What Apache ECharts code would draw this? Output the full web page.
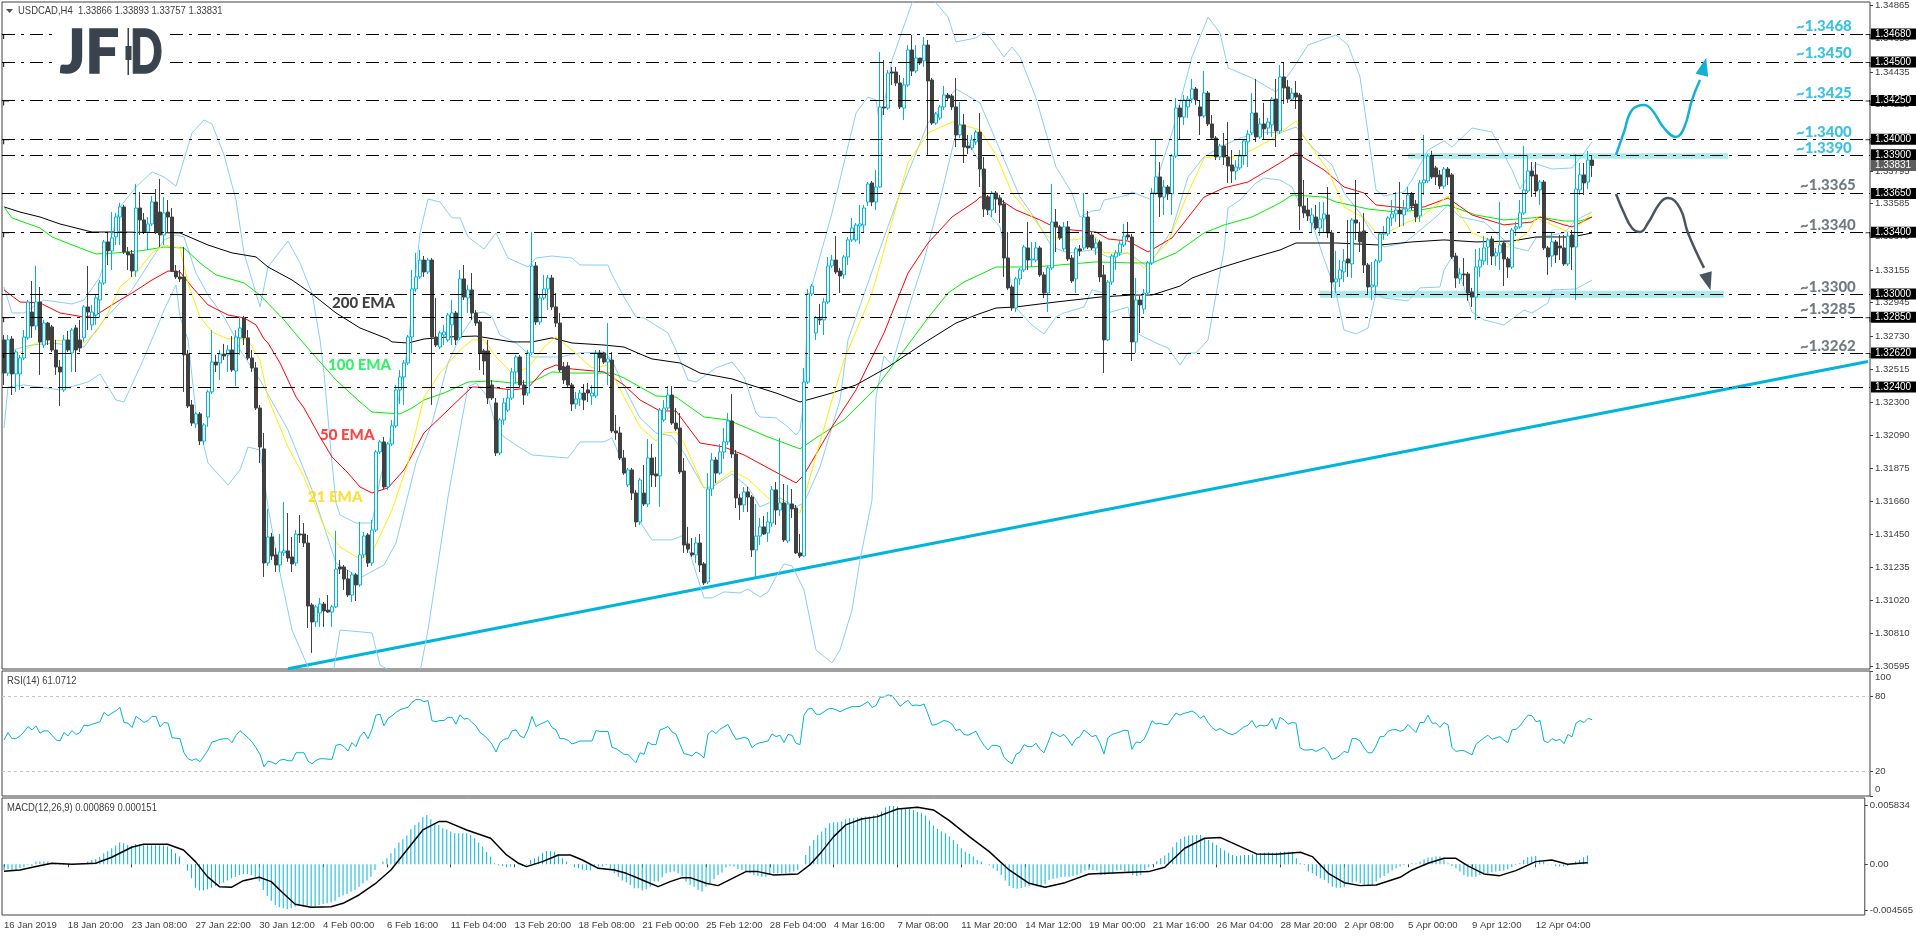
<!DOCTYPE html>
<html><head><meta charset="utf-8"><title>USDCAD,H4</title>
<style>html,body{margin:0;padding:0;background:#fff;overflow:hidden}#c{width:1916px;height:936px}</style>
<script src="https://cdn.jsdelivr.net/npm/echarts@6/dist/echarts.min.js"></script></head>
<body><div id="c"></div><script>
// prices are in units of 0.00001; rows are [open, high, low, close]
const candlesJan=[[132704,132736,132413,132490],[132490,132736,132471,132704],[132710,132729,132348,132484],[132484,132639,132368,132626],[132484,132607,132381,132587],[132587,132768,132574,132723],[132717,132962,132704,132949],[132884,133085,132717,132794],[132794,133182,132768,132949],[132949,133046,132478,132691],[132671,132833,132652,132813],[132813,132820,132671,132704],[132788,132801,132626,132639],[132639,132704,132478,132529],[132529,132574,132277,132497],[132381,132736,132368,132704],[132704,132762,132626,132639],[132620,132781,132497,132768],[132781,132801,132497,132639],[132704,132833,132626,132652],[132717,132930,132691,132917],[132917,133182,132768,132884],[132801,132930,132768,132884],[132865,132994,132801,132975],[132962,133091,132846,133072],[133072,133350,133059,133337],[133337,133401,133188,133279],[133279,133530,133156,133363],[133369,133524,133317,133498],[133498,133589,133317,133563],[133563,133576,133259,133272],[133272,133304,133156,133253],[133259,133285,133111,133149],[133149,133711,133111,133556],[133556,133660,133382,133479],[133479,133524,133388,133401],[133401,133498,133285,133453],[133453,133634,133440,133595],[133595,133679,133388,133401],[133530,133744,133304,133382],[133382,133627,133317,133524],[133530,133608,133395,133498],[133498,133556,133143,133149],[133149,133188,133098,133111],[133111,133156,133078,133098],[133111,133304,132368,132607],[132613,132639,132264,132277],[132284,132316,132148,132167],[132161,132238,132135,132226],[132226,132238,132025,132051],[132051,132167,132025,132155],[132206,132381,132142,132368],[132368,132768,132355,132561],[132561,132607,132497,132542],[132555,132639,132445,132613],[132613,132678,132574,132600],[132607,132671,132497,132639],[132639,132729,132497,132510],[132503,132768,132406,132723],[132717,132846,132607,132781],[132846,132859,132671,132717],[132717,132768,132574,132587],[132587,132639,132497,132523],[132523,132561,132251,132264],[132264,132284,131909,132012],[132000,132103,131173,131263],[131263,131612,131244,131431],[131431,131457,131282,131308],[131315,131360,131205,131250],[131250,131450,131205,131334],[131328,131657,131308,131341],[131341,131586,131270,131295],[131302,131431,131205,131257],[131263,131476,131244,131450],[131450,131573,131392,131444],[131450,131521,131366,131392],[131392,131444,130843,130985],[130992,131005,130682,130882],[130882,130992,130850,130979],[130940,131037,130850,130998],[130998,131011,130850,130953],[130959,131056,130940,130946],[130946,130992,130850,130979],[130979,131470,130972,131224],[131237,131282,131192,131224],[131237,131250,131089,131160],[131160,131218,131043,131056],[131056,131205,131011,131186],[131186,131198,131017,131121],[131121,131528,131108,131315],[131315,131463,131295,131437],[131444,131457,131237,131263],[131263,131541,131244,131476],[131476,131993,131463,131980],[131980,132058,131967,132045],[132045,132077,131741,131754],[131754,132045,131735,132032],[132032,132187,132019,132148],[132148,132413,132135,132381],[132381,132510,132290,132465]];
const candlesFeb=[[132465,132574,132284,132555],[132555,132736,132542,132723],[132723,133156,132620,133033],[133033,133266,133014,133111],[133111,133285,133098,133220],[133220,133246,133111,133143],[133143,133233,133130,133220],[133220,133233,132284,132723],[132723,132975,132658,132671],[132658,132762,132645,132749],[132736,132801,132671,132755],[132704,132878,132691,132865],[132801,132962,132671,132878],[132878,132891,132671,132704],[132717,133156,132704,133098],[133098,133188,132962,132981],[132975,133059,132878,133027],[133027,133136,132833,132878],[132878,132897,132794,132813],[132820,132833,132510,132620],[132633,132645,132478,132568],[132633,132704,132290,132329],[132413,132445,132316,132329],[132297,132329,131954,131974],[131974,132200,131961,132187],[132187,132329,132155,132297],[132251,132381,132238,132329],[132329,132523,132316,132497],[132497,132607,132419,132594],[132594,132607,132394,132413],[132413,132445,132284,132348],[132361,132639,132342,132620],[132620,133401,132607,133182],[133182,133207,132801,132820],[132820,132994,132801,132975],[132975,133124,132962,133033],[133033,133124,132897,133104],[133104,133124,132897,132917],[132917,133007,132788,132813],[132813,132878,132497,132510],[132529,132561,132419,132445],[132536,132561,132394,132413],[132413,132426,132245,132290],[132290,132368,132258,132322],[132322,132381,132277,132361],[132361,132419,132251,132316],[132381,132426,132303,132361],[132342,132413,132284,132361],[132342,132639,132329,132620],[132620,132639,132497,132587],[132620,132626,132549,132561],[132561,132813,132413,132581],[132574,132626,132103,132116],[132116,132219,132058,132103],[132103,132142,131928,131941],[131941,131993,131832,131844],[131767,131877,131754,131864],[131864,131877,131670,131715],[131715,131735,131496,131528],[131528,131812,131508,131799],[131715,131896,131631,131644],[131644,132064,131625,131941],[131941,132032,131754,131832],[131838,131948,131754,131825],[131825,132264,131625,132251],[132187,132316,132174,132264],[132264,132406,132251,132348],[132348,132406,132155,132167],[132167,132264,132116,132129],[132135,132232,131838,131851],[131857,131941,131328,131379],[131386,131496,131328,131353],[131328,131424,131302,131315],[131315,131431,131263,131392],[131392,131450,131205,131250],[131257,131269,131121,131134],[131140,131844,131127,131741],[131741,131974,131696,131928],[131928,131948,131780,131844],[131844,132032,131832,131980],[131980,132135,131935,132045],[132045,132232,132025,132180],[132180,132355,131941,131967],[131967,131993,131618,131683],[131683,131709,131541,131638],[131638,131754,131592,131722],[131722,131754,131592,131689],[131689,131702,131302,131347],[131347,131644,131173,131437],[131437,131554,131379,131496],[131496,131567,131444,131450],[131457,131592,131399,131528],[131521,131760,131496,131735],[131735,131786,131509,131605],[131605,132071,131567,131651],[131651,131773,131399,131412],[131405,131767,131392,131644],[131644,131741,131554,131612],[131618,131638,131321,131328],[131328,131450,131295,131308]];
const candlesMar=[[131308,132523,131302,132432],[132432,133033,132419,133001],[133001,133065,132988,133052],[132749,132859,132704,132846],[132839,132936,132801,132833],[132833,132975,132736,132949],[132949,133240,132936,133182],[133182,133253,133169,133220],[133220,133375,133130,133143],[133149,133169,133007,133117],[133124,133253,133098,133240],[133240,133369,133188,133350],[133350,133492,133337,133427],[133350,133459,133337,133446],[133440,133576,133324,133453],[133446,133576,133401,133556],[133595,133724,133569,133711],[133718,133731,133569,133595],[133595,133802,133543,133692],[133692,134564,133686,134209],[134209,134512,134157,134202],[134202,134448,134189,134428],[134435,134467,134351,134428],[134435,134467,134344,134364],[134364,134415,134196,134209],[134202,134396,134125,134351],[134351,134609,134338,134577],[134577,134674,134409,134441],[134441,134609,134428,134525],[134525,134525,134480,134493],[134506,134661,134467,134609],[134609,134642,133899,134377],[134383,134396,134093,134105],[134105,134176,134093,134164],[134138,134222,134125,134209],[134209,134344,134189,134286],[134286,134299,134254,134267],[134280,134293,134189,134209],[134209,134396,133950,134028],[134028,134241,134008,134093],[134093,134164,133847,133950],[133957,134028,133905,133944],[133944,134028,133931,133996],[133983,134060,133963,134047],[134047,134170,133692,133808],[133808,133886,133498,133550],[133627,133640,133511,133543],[133543,133666,133498,133653],[133653,133666,133524,133614],[133621,133640,133459,133576],[133582,133608,133111,133233],[133233,133401,133027,133040],[133046,133059,132891,132910],[132910,133111,132884,133098],[133098,133169,133059,133156],[133156,133317,133143,133304],[133298,133466,133156,133220],[133220,133337,133175,133227],[133220,133337,133207,133298],[133298,133311,133111,133124],[133124,133143,132975,133007],[133007,133182,132884,133169],[133169,133711,133156,133466],[133466,133550,133272,133434],[133434,133446,133350,133363],[133292,133466,133279,133434],[133434,133472,133214,133227],[133233,133253,133072,133085],[133098,133304,133007,133292],[133292,133317,133246,133279],[133298,133653,133285,133498],[133498,133537,133291,133304],[133382,133401,133285,133298],[133298,133363,133253,133330],[133337,133350,133078,133111],[133124,133188,132490,132704],[132704,133091,132697,133078],[133078,133259,133059,133246],[133240,133285,133156,133266],[133266,133343,133246,133324],[133317,133453,133304,133375],[133382,133466,133350,133369],[133369,133388,132568,132691],[132691,133104,132620,132962],[132962,132988,132749,132930],[132904,133033,132872,133007],[133007,133214,132994,133201],[133201,133686,133188,133653],[133653,133996,133640,133757],[133757,133853,133498,133627],[133627,133737,133511,133692],[133692,133705,133608,133647],[133647,133905,133511,133892],[133892,134267,133879,134202],[134202,134222,134002,134144],[134144,134286,134093,134254],[134209,134280,134138,134260],[134260,134390,134235,134325],[134325,134338,134222,134254],[134209,134254,134028,134151]];
const candlesApr=[[134151,134441,134138,134299],[134299,134312,134086,134099],[134099,134157,133996,134008],[134008,134021,133866,133886],[133886,133970,133866,133957],[133957,134041,133834,133886],[133886,134112,133718,133828],[133834,133931,133718,133795],[133795,133866,133737,133821],[133815,133931,133802,133892],[133892,134002,133834,133989],[133983,134060,133821,134034],[134041,134299,134028,134170],[134170,134390,133983,134015],[134015,134138,134002,134099],[134099,134235,133996,134067],[134073,134138,134028,134112],[134093,134273,134015,134260],[134260,134390,133950,134054],[134054,134480,134034,134403],[134403,134499,134228,134332],[134338,134383,134235,134260],[134260,134332,134254,134299],[134299,134377,134196,134273],[134286,134299,133414,133569],[133569,133737,133492,133524],[133543,133621,133472,133505],[133459,133556,133401,133511],[133498,133576,133414,133427],[133427,133595,133375,133485],[133485,133595,133401,133518],[133511,133692,133363,133395],[133395,133414,132975,133078],[133078,133279,133007,133098],[133098,133220,133046,133156],[133143,133291,133078,133214],[133227,133479,133111,133201],[133195,133492,133104,133479],[133479,133737,133350,133459],[133401,133466,133272,133337],[133408,133524,133136,133188],[133188,133201,133001,133046],[133046,133207,132962,133059],[133052,133227,132994,133214],[133214,133401,133201,133388],[133388,133440,133350,133395],[133388,133505,133375,133492],[133492,133608,133440,133518],[133518,133660,133466,133543],[133543,133724,133434,133518],[133511,133608,133440,133550],[133550,133692,133537,133640],[133647,133660,133543,133569],[133582,133608,133466,133498],[133505,133737,133466,133718],[133718,134028,133640,133737],[133731,133905,133718,133892],[133892,133925,133744,133757],[133815,133828,133705,133757],[133770,133802,133679,133698],[133698,133821,133679,133808],[133808,133821,133705,133757],[133770,133782,133227,133240],[133246,133266,133040,133104],[133098,133169,133065,133130],[133130,133233,133052,133124],[133130,133143,132956,133007],[133014,133040,132917,132981],[132981,133291,132833,133175],[133175,133298,133111,133220],[133214,133375,133188,133298],[133304,133363,133188,133350],[133356,133375,133188,133246],[133246,133298,133182,133266],[133266,133595,133156,133317],[133330,133343,133052,133227],[133227,133240,133104,133175],[133175,133427,133162,133414],[133421,133466,133375,133434],[133434,133608,133421,133524],[133524,133957,133511,133673],[133666,133899,133653,133795],[133795,133853,133628,133763],[133770,133853,133628,133666],[133673,133737,133576,133724],[133724,133737,133285,133298],[133298,133311,133124,133240],[133246,133401,133175,133337],[133337,133350,133201,133253],[133311,133382,133220,133298],[133298,133382,133182,133195],[133195,133401,133182,133375],[133382,133414,133156,133304],[133304,133905,132962,133679],[133673,133847,133640,133770],[133770,133847,133640,133718],[133724,133925,133679,133866],[133866,133893,133757,133831]];
// line vertices: [bar index, price in 0.00001]
const ema200=[[0,133563],[4,133530],[9,133498],[14,133453],[22,133401],[29,133401],[44,133395],[51,133317],[57,133266],[63,133240],[66,133175],[72,133091],[77,133001],[83,132878],[89,132781],[96,132710],[97,132691],[101,132684],[105,132710],[111,132723],[118,132729],[127,132691],[132,132691],[137,132717],[142,132684],[150,132671],[155,132658],[159,132613],[162,132581],[169,132555],[174,132490],[182,132452],[185,132426],[193,132361],[199,132303],[207,132361],[213,132413],[221,132529],[230,132684],[238,132813],[243,132865],[248,132910],[253,132917],[263,132949],[274,132981],[282,132994],[287,132994],[294,133052],[297,133104],[304,133169],[312,133233],[319,133285],[323,133330],[333,133330],[344,133317],[352,133337],[360,133350],[368,133337],[377,133343],[383,133369],[392,133369],[397,133395]];
const ema100=[[0,133563],[2,133492],[9,133427],[12,133369],[19,133298],[23,133259],[28,133266],[34,133279],[40,133304],[45,133298],[49,133201],[53,133124],[60,133072],[64,132994],[70,132833],[74,132710],[77,132620],[83,132445],[89,132303],[92,132238],[99,132226],[102,132264],[105,132316],[110,132361],[116,132432],[122,132439],[127,132426],[132,132432],[137,132497],[142,132490],[152,132490],[155,132458],[159,132400],[163,132342],[168,132335],[175,132206],[181,132187],[191,132077],[199,132000],[203,132071],[210,132187],[218,132394],[231,132846],[236,133007],[240,133078],[248,133175],[256,133175],[261,133182],[273,133208],[282,133201],[287,133201],[293,133266],[300,133395],[305,133446],[312,133498],[319,133589],[322,133640],[330,133627],[333,133595],[341,133550],[348,133530],[354,133543],[361,133576],[363,133556],[368,133511],[375,133479],[382,133492],[384,133498],[390,133472],[394,133472],[397,133498]];
const ema50=[[0,133027],[4,132949],[9,132943],[14,132878],[20,132852],[23,132865],[29,132962],[32,133007],[37,133091],[41,133149],[44,133143],[47,133046],[51,132930],[56,132865],[60,132846],[63,132801],[65,132710],[66,132684],[69,132555],[73,132335],[75,132264],[79,132077],[82,131948],[86,131844],[89,131754],[92,131715],[96,131748],[100,131864],[105,132103],[111,132251],[117,132400],[123,132394],[127,132381],[131,132394],[135,132510],[138,132542],[142,132516],[150,132497],[155,132413],[159,132316],[164,132245],[168,132245],[174,132038],[180,132012],[185,131961],[191,131877],[198,131780],[200,131832],[207,132142],[213,132381],[220,132749],[226,133136],[231,133330],[237,133498],[243,133602],[244,133627],[248,133627],[253,133543],[259,133479],[262,133440],[267,133414],[273,133401],[276,133356],[281,133343],[286,133272],[292,133363],[300,133627],[305,133686],[311,133724],[319,133847],[323,133912],[330,133802],[335,133692],[340,133653],[343,133576],[350,133556],[355,133563],[361,133621],[367,133511],[375,133447],[382,133466],[384,133498],[390,133447],[392,133434],[397,133498]];
const ema21=[[0,132620],[3,132607],[8,132684],[12,132704],[20,132684],[23,132755],[26,132878],[29,133046],[33,133136],[37,133266],[40,133317],[44,133298],[46,133072],[49,132852],[52,132755],[56,132710],[58,132717],[61,132704],[64,132574],[66,132329],[71,132012],[75,131819],[80,131496],[84,131366],[89,131289],[92,131328],[97,131605],[101,131909],[105,132335],[109,132490],[114,132639],[117,132704],[120,132704],[123,132594],[127,132490],[131,132523],[135,132658],[138,132723],[142,132639],[147,132523],[151,132542],[155,132335],[159,132142],[163,132051],[165,132103],[168,132109],[170,132038],[175,131748],[177,131760],[182,131857],[186,131806],[191,131683],[195,131657],[199,131586],[202,131864],[207,132316],[210,132574],[217,133007],[223,133563],[226,133847],[231,134041],[237,134112],[244,134060],[248,133899],[252,133653],[257,133498],[261,133369],[267,133350],[273,133369],[275,133266],[281,133266],[285,133169],[291,133337],[296,133653],[300,133879],[303,133892],[307,133879],[312,133931],[317,134002],[319,134041],[323,134118],[325,134015],[331,133802],[335,133563],[340,133492],[343,133395],[345,133388],[351,133466],[354,133492],[361,133634],[367,133395],[373,133330],[376,133304],[381,133401],[383,133492],[390,133414],[392,133395],[397,133530]];
const bollUpper=[[0,133046],[2,132878],[5,132878],[10,132962],[17,132936],[20,132962],[24,133111],[29,133563],[33,133692],[37,133789],[40,133757],[43,133698],[47,134041],[50,134125],[52,134099],[55,133899],[58,133608],[60,133266],[64,132917],[66,133175],[71,133343],[74,133201],[77,133007],[79,132704],[80,132490],[82,131909],[83,131651],[84,131573],[88,131521],[92,131521],[94,131799],[98,132232],[101,132658],[104,133395],[106,133614],[109,133595],[112,133492],[114,133492],[116,133369],[120,133291],[123,133395],[126,133233],[131,133175],[133,133233],[137,133246],[142,133233],[144,133188],[151,133188],[152,133124],[155,132981],[158,132852],[160,132846],[166,132749],[168,132639],[171,132445],[173,132432],[178,132523],[182,132561],[185,132465],[188,132232],[189,132206],[193,132200],[196,132142],[198,132090],[199,132122],[200,132316],[201,132962],[207,133524],[213,134170],[216,134273],[218,134254],[219,134080],[222,134512],[227,134881],[229,134919],[232,134919],[233,134881],[236,134790],[238,134629],[243,134655],[245,134693],[247,134642],[250,134532],[252,134596],[254,134532],[258,134267],[261,133996],[263,133821],[267,133653],[269,133498],[272,133537],[274,133543],[275,133608],[281,133640],[282,133660],[287,133608],[288,133724],[292,134041],[297,134532],[301,134790],[304,134687],[306,134461],[312,134396],[318,134306],[322,134448],[326,134609],[333,134674],[336,134609],[339,134403],[341,134041],[343,133673],[345,133634],[350,133660],[352,133737],[356,133931],[360,133989],[362,133950],[367,134073],[372,134047],[374,133950],[377,133802],[379,133679],[383,133841],[387,133808],[392,133815],[395,133912],[397,133983]];
const bollMiddle=[[0,132626],[7,132671],[12,132684],[20,132658],[25,132833],[32,133027],[40,133350],[43,133382],[45,133369],[48,133136],[51,132994],[55,132852],[58,132710],[59,132639],[64,132445],[71,132122],[77,131735],[83,131263],[89,131166],[95,131250],[98,131392],[103,131909],[107,132167],[111,132555],[114,132723],[118,132878],[120,132884],[122,132852],[124,132736],[128,132684],[132,132594],[139,132594],[144,132620],[150,132626],[152,132574],[155,132400],[159,132200],[163,132103],[167,132083],[170,131974],[175,131748],[177,131754],[182,131838],[186,131754],[189,131625],[194,131683],[198,131625],[200,131651],[204,131883],[209,132316],[211,132704],[218,133220],[224,133653],[231,134105],[238,134325],[244,134235],[249,133931],[254,133627],[258,133479],[262,133304],[266,133266],[272,133285],[276,133240],[281,133266],[286,133175],[292,133414],[296,133757],[300,133886],[304,133950],[309,134008],[314,134047],[319,134041],[323,134080],[327,133950],[332,133834],[335,133653],[339,133524],[342,133395],[345,133304],[350,133330],[352,133369],[358,133498],[361,133576],[364,133498],[370,133466],[377,133304],[381,133279],[383,133363],[390,133395],[393,133479],[397,133530]];
const bollLower=[[0,132135],[1,132400],[5,132413],[14,132381],[21,132432],[24,132484],[28,132316],[30,132303],[34,132529],[38,132768],[40,132897],[43,133059],[44,132852],[46,132704],[48,132232],[51,131909],[56,131767],[59,131864],[61,132012],[64,131993],[66,131625],[69,131198],[72,130830],[76,130591],[77,130507],[82,130507],[84,130830],[92,130811],[94,130604],[97,130559],[104,130559],[106,130830],[111,131689],[114,132122],[116,132400],[118,132426],[121,132335],[123,132142],[125,132077],[128,132025],[132,131961],[141,131941],[144,132045],[150,132045],[152,132071],[154,131948],[157,131780],[159,131528],[162,131412],[167,131412],[170,131444],[172,131282],[175,131037],[177,131037],[180,131076],[184,131069],[186,131095],[189,131043],[191,131076],[193,131173],[195,131257],[197,131244],[200,131089],[201,130959],[203,130701],[207,130617],[209,130701],[212,130959],[214,131282],[217,131670],[218,132335],[220,132600],[222,132542],[226,132897],[230,133220],[234,133608],[238,134041],[239,134073],[244,133847],[246,133524],[249,133434],[253,132910],[257,132800],[260,132742],[263,132852],[265,132878],[270,132917],[272,133027],[275,133007],[276,132878],[281,132917],[282,132768],[284,132736],[288,132684],[291,132652],[294,132542],[296,132620],[298,132620],[301,132704],[305,133285],[306,133556],[309,133608],[313,133718],[315,133750],[319,133737],[322,133692],[324,133576],[327,133459],[329,133304],[331,133156],[333,133007],[335,132768],[338,132742],[341,132781],[343,133007],[345,132975],[351,132956],[354,133040],[359,133046],[360,133156],[362,133240],[365,133046],[367,132884],[370,132833],[375,132801],[380,132897],[382,132878],[386,132943],[387,133027],[393,133033],[397,133091]];
const trendLine=[[71,130580],[466,132565]];
const arrowUp=[[403,133899],[405,134047],[407,134189],[410,134222],[412,134189],[415,134073],[418,134015],[420,134073],[422,134254],[424,134383]];
const arrowDown=[[403,133647],[405,133524],[407,133427],[409,133401],[411,133459],[414,133589],[416,133621],[419,133556],[421,133395],[425,133169]];
// indicators
const rsiValues=[44.9,50.8,45.9,45.9,48.1,51.3,55.6,52.9,56.1,50.2,52.1,52.1,48.6,44.9,44,50.8,48.1,52.4,49.2,50.8,56.7,56.1,57.5,58.3,59.4,66.9,64.2,66.4,68.2,70.9,58.8,58.3,54.8,63.7,61.5,58.8,60.4,63.7,63.7,55.3,58.8,58.3,46.7,46.2,45.9,34.6,29.8,28.5,29.8,27.4,31.9,36.8,43.2,44,45.4,45.7,45.9,42.7,48.6,52.1,49.4,46.7,43.2,38.7,33.3,23.3,27.9,27.1,25.5,28.7,29.3,28.2,28.2,34.6,34.6,34.6,27.9,25.8,28.5,29.8,29.8,29.5,29.3,40.5,41.4,39.5,36,42.7,39.5,47.5,51.3,45.9,53.4,64.7,65.5,56.1,62.1,64.2,66.9,69,70.1,70.9,75,77.1,77.1,75.5,76.3,60.2,59.4,60.4,60.4,62.9,62.9,57.5,65,61.5,62.1,58.8,56.1,50.8,48.6,45.4,41.4,35.2,42.7,45.4,45.9,52.1,52.9,48.1,46.5,53.4,63.7,55.6,57.5,58.8,60.4,54.8,52.9,45.9,45.9,44.6,41.6,42.7,44,44,44,44,52.4,51.6,51.6,51.6,38.9,37.9,35.7,33.3,33.3,29.8,26.6,34.6,33.3,43.2,41.1,41.1,52.9,54,55.6,51.3,49.4,41.4,33.8,33.3,31.9,35.2,33.3,30.6,49.4,52.4,50,53.4,55.3,57.2,50.8,45.4,45.9,47,45.9,38.7,41.4,42.7,43.2,44,49.7,47.5,48.6,42.7,49.2,48.6,42.2,41.1,64.7,69.6,70.1,65.5,65.3,67.4,69.6,70.1,69,67.4,69,70.4,71.5,71.5,71.7,73.6,75.5,70.9,72.3,79,79.2,80.9,80.3,76.3,71.7,74.4,76.6,72.3,72.8,72.3,73.6,65.5,56.7,57.2,58.8,60.4,59.6,57.5,52.4,53.4,49.2,48.6,50.2,51.8,45.4,40.5,36.8,40.5,40.5,39.5,30.9,27.9,25.8,33.3,35.2,41.1,39.5,39.5,42.2,37.3,34.6,42.7,51.3,49.4,47.5,49.2,45.4,40.5,45.9,47.5,52.9,50.2,47.5,48.6,42.2,33.6,46.7,49.2,50.2,51.3,52.6,52.4,37.3,43.2,42.7,45.4,52.1,60.2,57.5,58.3,57.2,57.2,62.1,66.4,64.7,66.1,66.9,68,66.1,62.1,64.2,58.8,54.8,52.4,54,52.1,50.2,49.2,50.2,52.9,55.3,56.7,60.4,54.8,56.7,56.1,56.7,62.1,53.4,62.9,61,57.5,58.8,58.3,38.7,36.8,36.8,37.3,35.7,37.3,38.9,35.4,29.3,30.3,32.5,35.7,34.6,45.9,45.9,44,38.7,34.6,34.6,40,47.5,47.5,51.8,52.9,53.2,51.8,52.9,57.2,54,50.8,58.8,58.8,64.7,58.3,58.3,54.8,58.8,57,38.7,35.7,36.3,36.3,34.6,32.8,41.4,44,46.5,48.6,45.4,46.5,47.5,44.6,42.7,52.9,53.4,56.1,60.7,64.7,64.2,59.4,60.4,44,42.7,45.9,44.3,45.4,41.9,49.2,47.3,58.3,60.4,58.8,62.1,61.07];
const macdHistogram=[-565,-500,-565,-565,-400,-300,-100,-165,265,265,265,265,30,-50,-50,-50,30,30,30,30,30,265,430,530,760,1095,1330,1595,1860,2160,2090,1925,1825,2025,1990,1890,1890,1890,1890,1890,1890,1760,1525,1095,765,30,-630,-1395,-2325,-2620,-2620,-2490,-2325,-2160,-1960,-1825,-1625,-1395,-1230,-1060,-960,-960,-1060,-1230,-1725,-2555,-3155,-3620,-4050,-4285,-4380,-4450,-4380,-4215,-4050,-4215,-4215,-4215,-4150,-4050,-3950,-3885,-3785,-3620,-3285,-3120,-2955,-2720,-2555,-2225,-1890,-1625,-1230,-565,0,265,600,1095,1595,2160,2490,2855,3485,3920,4185,4680,4915,4480,4085,3920,3585,3485,3255,3090,3090,3090,3090,2920,2590,2160,1760,1260,765,100,-100,-165,-300,-230,-65,30,-165,-65,430,600,765,1160,1330,1295,1260,930,600,265,30,-300,-400,-565,-565,-630,-300,-230,-230,-65,-565,-895,-1230,-1625,-1825,-2060,-2390,-2390,-2620,-2490,-2225,-1725,-1725,-1295,-895,-800,-730,-895,-1160,-1725,-2060,-2225,-2555,-2720,-2225,-1890,-1495,-1060,-830,-330,-165,-230,-465,-565,-730,-895,-1060,-1160,-1230,-1230,-1060,-895,-895,-895,-895,-830,-730,-565,0,930,1825,2425,2920,3255,3650,4085,4185,4185,4250,4480,4580,4580,4650,4680,4750,4750,4850,5015,5245,5645,5810,5810,5745,5580,5580,5580,5410,5210,5080,4850,4350,3850,3520,3255,3090,2755,2425,2025,1595,1260,1030,765,430,265,30,-100,-400,-665,-1060,-1625,-2160,-2355,-2425,-2355,-2225,-2160,-2125,-2225,-2290,-1960,-1560,-1430,-1395,-1295,-1230,-1230,-1160,-1060,-895,-630,-565,-565,-630,-1060,-1060,-960,-895,-630,-565,-730,-895,-1060,-1160,-1060,-565,-300,-65,330,600,865,1160,1695,2190,2525,2755,2855,2855,2920,2920,2590,2425,2160,1925,1595,1360,1160,930,830,865,930,930,995,1030,1095,1160,1195,1160,1160,1260,1260,1260,1260,600,100,-65,-730,-895,-1160,-1395,-1560,-1890,-2225,-2325,-2325,-2290,-1960,-1825,-1725,-1890,-2060,-2060,-2060,-1725,-1395,-1160,-895,-630,-400,-230,-65,30,100,100,265,500,665,695,765,765,500,100,-165,-400,-730,-1060,-1230,-1230,-1230,-1060,-895,-895,-800,-730,-665,-630,-500,-300,-65,100,430,695,765,830,430,265,30,30,-165,-230,-230,-165,30,265,430,695,869];
const macdSignal=[[0,-700],[4,-565],[8,-230],[12,100],[17,0],[23,100],[27,700],[32,1695],[35,2000],[41,2000],[45,1430],[48,265],[51,-1230],[54,-2225],[57,-2290],[60,-1630],[64,-1295],[67,-1730],[70,-2890],[73,-3985],[77,-4285],[82,-4220],[85,-3885],[89,-3055],[93,-1960],[97,-565],[101,1430],[105,3420],[109,4250],[111,4250],[116,3420],[122,2590],[126,930],[129,100],[131,-230],[135,265],[139,930],[142,930],[145,430],[149,-400],[153,-565],[156,-900],[159,-1395],[160,-1560],[164,-2225],[167,-1730],[170,-1330],[172,-1330],[176,-1895],[179,-2125],[181,-1730],[186,-730],[189,-730],[193,-1065],[199,-965],[202,-65],[205,1260],[208,2755],[211,3920],[215,4515],[219,4745],[224,5510],[229,5675],[233,5410],[237,4350],[242,2755],[247,1260],[252,-565],[257,-1895],[261,-2290],[266,-1830],[272,-965],[281,-830],[287,-730],[291,-300],[296,1595],[301,2590],[305,2655],[310,1760],[314,1030],[319,1000],[325,1195],[328,765],[332,-900],[336,-1830],[340,-2125],[344,-2060],[350,-1295],[353,-565],[357,100],[361,600],[364,600],[367,-165],[371,-960],[375,-1130],[379,-630],[384,265],[388,430],[392,0],[395,100],[397,151]];
// levels and tick labels
const drawnLevels=[134680,134500,134250,134000,133900,133650,133400,133000,132850,132620,132400];
const levelsWithMarks=[134680,134500,134250,134000,133400,132850,132620];
const lastPrice=133831;
const priceTicks=[134865,134650,134435,134225,134010,133795,133585,133370,133155,132945,132730,132515,132300,132090,131875,131660,131450,131235,131020,130810,130595];
const rsiTicks=[100,80,20,0];
const rsiLabelSpots=[94.8,80,20,5.5];
const macdTicks=[0.005834,0,-0.004565];
const timeLabels=['16 Jan 2019','18 Jan 20:00','23 Jan 08:00','27 Jan 22:00','30 Jan 12:00','4 Feb 00:00','6 Feb 16:00','11 Feb 04:00','13 Feb 20:00','18 Feb 08:00','21 Feb 00:00','25 Feb 12:00','28 Feb 04:00','4 Mar 16:00','7 Mar 08:00','11 Mar 20:00','14 Mar 12:00','19 Mar 00:00','21 Mar 16:00','26 Mar 04:00','28 Mar 20:00','2 Apr 08:00','5 Apr 00:00','9 Apr 12:00','12 Apr 04:00'];
const TICK_EVERY=16, TOTAL_SLOTS=467;
const annotationTexts=['~1.3468','~1.3450','~1.3425','~1.3400','~1.3390','~1.3365','~1.3340','~1.3300','~1.3285','~1.3262','200 EMA','100 EMA','50 EMA','21 EMA'];
const annotationBars=[448,448,448,448,448,449,449,449,449,449,82,81,79,76];
const annotationPrices=[134732,134558,134299,134047,133944,133705,133446,133046,132904,132665,132943,132542,132090,131689];
const annotationColors=['#08b2da','#08b2da','#08b2da','#08b2da','#08b2da','#4f5a64','#4f5a64','#4f5a64','#4f5a64','#4f5a64','#111111','#00ee44','#ff1111','#ffd400'];
const bandUpper=[[351,133910],[431,133875]];
const bandLower=[[329,133022],[430,132977]];

const UP='#00b4d8', DOWN='#404040', BOLL='#87cefa', AXFONT=9.6;
const TXT="'Liberation Sans',sans-serif";
const candles=candlesJan.concat(candlesFeb,candlesMar,candlesApr);
const px=v=>v/1e5;
const pts=a=>a.map(p=>[p[0],px(p[1])]);
const categories=Array.from({length:TOTAL_SLOTS},(_,i)=>i%TICK_EVERY===0?(timeLabels[i/TICK_EVERY]||''):'');
const showTick=i=>i%TICK_EVERY===0&&i/TICK_EVERY<timeLabels.length;

function lineS(name,data,color,width,z,extra){return Object.assign({type:'line',name,data:pts(data),symbol:'none',showSymbol:false,silent:true,z,lineStyle:{color,width},xAxisIndex:0,yAxisIndex:0},extra||{});}
const hiddenX=i=>({type:'category',gridIndex:i,data:categories,boundaryGap:true,axisLine:{show:false},axisTick:{show:false},axisLabel:{show:false},splitLine:{show:false}});
const yBase=(i,min,max,vals,fmt,labelVals)=>({type:'value',gridIndex:i,position:'right',min,max,splitLine:{show:false},axisLine:{show:false},
  axisTick:{show:true,length:3,lineStyle:{color:'#404040'},customValues:vals},
  axisLabel:{show:true,customValues:labelVals||vals,color:'#404040',fontSize:AXFONT,fontFamily:TXT,margin:5,formatter:fmt}});

const chart=echarts.init(document.getElementById('c'),null,{renderer:'canvas'});
chart.setOption({
 animation:false,backgroundColor:'#fff',tooltip:{show:false},
 grid:[
  {left:2,width:1868,top:2,height:667,show:true,borderColor:'#404040',borderWidth:1,backgroundColor:'transparent'},
  {left:2,width:1868,top:671,height:125,show:true,borderColor:'#404040',borderWidth:1,backgroundColor:'transparent'},
  {left:2,width:1868,top:798,height:117,show:true,borderColor:'#404040',borderWidth:1,backgroundColor:'transparent'}],
 xAxis:[hiddenX(0),hiddenX(1),{type:'category',gridIndex:2,data:categories,boundaryGap:true,axisLine:{show:false},
   axisTick:{show:true,alignWithLabel:true,length:3,interval:(i)=>showTick(i),lineStyle:{color:'#404040'}},
   axisLabel:{show:true,interval:(i)=>showTick(i),align:'left',margin:5,color:'#404040',fontSize:AXFONT,fontFamily:TXT},splitLine:{show:false}}],
 yAxis:[
  yBase(0,px(130578),px(134887),priceTicks.map(px),v=>v.toFixed(5)),
  yBase(1,0,100,rsiTicks,v=>v>90?'100':(v<10?'0':String(v)),rsiLabelSpots),
  yBase(2,-0.00505,0.0066,macdTicks,v=>v===0?'0.00':v.toFixed(6))],
 series:[
  lineS('Trend',trendLine,'#00b4dc',3,1,{markArea:{silent:true,itemStyle:{color:'#aeeaec',opacity:1},data:[
    [{coord:[bandUpper[0][0],px(bandUpper[0][1])]},{coord:[bandUpper[1][0],px(bandUpper[1][1])]}],
    [{coord:[bandLower[0][0],px(bandLower[0][1])]},{coord:[bandLower[1][0],px(bandLower[1][1])]}]]}}),
  lineS('Upper',bollUpper,BOLL,1,2),lineS('Middle',bollMiddle,BOLL,1,2),lineS('Lower',bollLower,BOLL,1,2),
  lineS('EMA200',ema200,'#000000',1,3),lineS('EMA100',ema100,'#00ee00',1,3),lineS('EMA50',ema50,'#ff0000',1,3),lineS('EMA21',ema21,'#ffee00',1,3),
  lineS('Levels',trendLine,'#000',0,3,{lineStyle:{opacity:0,width:0},
   markLine:{silent:true,symbol:'none',animation:false,precision:5,
    lineStyle:{color:'#000',width:1,type:[13,6,3,6]},
    label:{show:true,position:'end',distance:1,formatter:'{b}',color:'#fff',backgroundColor:'#000',padding:[1,9,0,4],fontSize:AXFONT+0.4,fontFamily:TXT},
    data:drawnLevels.map(v=>({yAxis:px(v),name:px(v).toFixed(5)})).concat([{yAxis:px(lastPrice),name:px(lastPrice).toFixed(5),lineStyle:{color:'rgba(0,0,0,0)',width:1},label:{show:true,position:'end',distance:1,formatter:'{b}',color:'#fff',opacity:1,backgroundColor:'#5c5c5c',padding:[1,9,0,4],fontSize:AXFONT+0.4,fontFamily:TXT}}])}}),
  {type:'candlestick',name:'USDCAD',xAxisIndex:0,yAxisIndex:0,silent:true,z:4,barWidth:3,
   data:candles.map(r=>[px(r[0]),px(r[3]),px(r[2]),px(r[1])]),
   itemStyle:{color:'#ffffff',color0:DOWN,borderColor:UP,borderColor0:DOWN,borderWidth:1}},
  lineS('UpArrow',arrowUp,'#12b2d6',2.5,5,{smooth:0.45,markPoint:{silent:true,symbol:'triangle',symbolSize:[13,18],symbolRotate:-14,itemStyle:{color:'#12b2d6'},label:{show:false},data:[{coord:[425,px(134470)]}]}}),
  lineS('DownArrow',arrowDown,'#4a5560',2.5,5,{smooth:0.45,markPoint:{silent:true,symbol:'triangle',symbolSize:[13,18],symbolRotate:-164,itemStyle:{color:'#4a5560'},label:{show:false},data:[{coord:[426,px(133080)]}]}}),
  {type:'scatter',xAxisIndex:0,yAxisIndex:0,silent:true,z:6,symbol:'path://M0,0H10V2H2V10H0Z',symbolSize:[6,5],symbolOffset:[2,2.5],itemStyle:{color:'#000'},data:levelsWithMarks.map(v=>[0,px(v)])},
  {type:'scatter',xAxisIndex:0,yAxisIndex:0,silent:true,z:6,symbol:'path://M0,0H10V10H8V2H0Z',symbolSize:[5,5],symbolOffset:[0,2.5],itemStyle:{color:'#000'},data:levelsWithMarks.map(v=>[466,px(v)])},
  {type:'scatter',xAxisIndex:0,yAxisIndex:0,silent:true,z:7,symbolSize:0.1,itemStyle:{color:'transparent'},
   label:{show:true,position:'right',distance:0,formatter:'{b}',fontFamily:"Lato,'Open Sans',sans-serif",fontWeight:900,fontSize:15},
   data:annotationTexts.map((t,k)=>({name:t,value:[annotationBars[k],px(annotationPrices[k])],label:{color:annotationColors[k]}}))},
  {type:'line',name:'RSI',xAxisIndex:1,yAxisIndex:1,data:rsiValues,symbol:'none',showSymbol:false,silent:true,lineStyle:{color:UP,width:1},
   markLine:{silent:true,symbol:'none',animation:false,label:{show:false},lineStyle:{color:'#c4c4c4',width:1,type:[3,3]},data:[{yAxis:80},{yAxis:20}]}},
  {type:'bar',name:'MACD',xAxisIndex:2,yAxisIndex:2,data:macdHistogram.map(v=>v/1e6),barWidth:1,silent:true,itemStyle:{color:UP}},
  {type:'line',name:'Signal',xAxisIndex:2,yAxisIndex:2,data:macdSignal.map(p=>[p[0],p[1]/1e6]),symbol:'none',showSymbol:false,silent:true,z:5,lineStyle:{color:'#000',width:1.5}}
 ],
 graphic:[
  {type:'rect',z:50,shape:{x:55,y:26,width:115,height:52},style:{fill:'#fff'}},
  {type:'text',z:51,x:60,y:23,scaleX:0.97,style:{text:'JF',font:"900 61px Lato,sans-serif",fill:'#39434d',stroke:'#39434d',lineWidth:1.5}},
  {type:'text',z:51,x:130,y:23,scaleX:0.7,style:{text:'D',font:"900 61px Lato,sans-serif",fill:'#39434d',stroke:'#39434d',lineWidth:1.5}},
  {type:'rect',z:52,shape:{x:124,y:26,width:8,height:50},style:{fill:'#fff'}},
  {type:'rect',z:53,shape:{x:127.5,y:28,width:1.5,height:47},style:{fill:'#39434d'}},
  {type:'rect',z:53,shape:{x:125.5,y:46,width:6,height:14},style:{fill:'#39434d'}},
  {type:'polygon',z:51,shape:{points:[[6,9],[13,9],[9.5,13]]},style:{fill:'#505050'}},
  {type:'text',z:51,x:18,y:5,scaleX:0.86,style:{text:'USDCAD,H4  1.33866 1.33893 1.33757 1.33831',font:"11px "+TXT,fill:'#404040'}},
  {type:'text',z:51,x:7,y:675,scaleX:0.86,style:{text:'RSI(14) 61.0712',font:"11px "+TXT,fill:'#404040'}},
  {type:'text',z:51,x:7,y:802,scaleX:0.86,style:{text:'MACD(12,26,9) 0.000869 0.000151',font:"11px "+TXT,fill:'#404040'}}
 ]
});
</script></body></html>
